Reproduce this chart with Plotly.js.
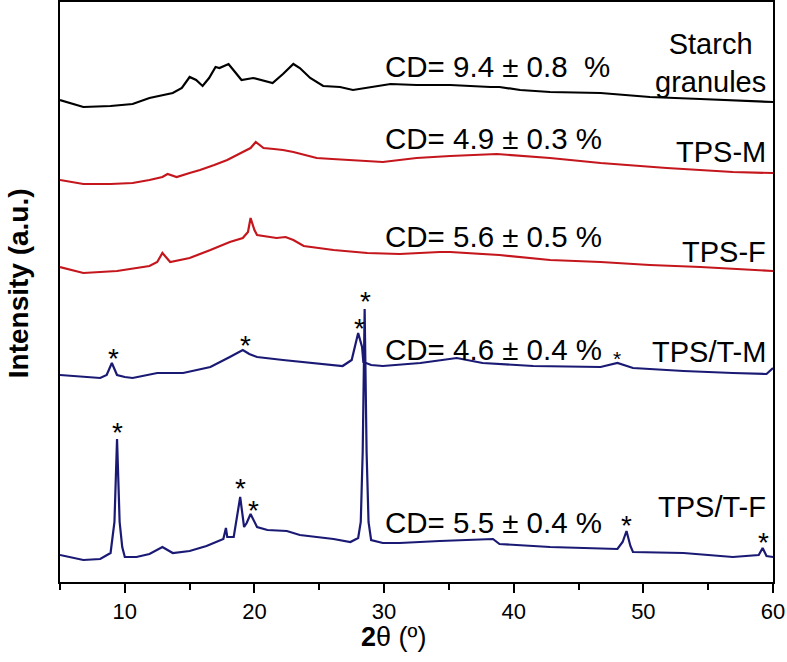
<!DOCTYPE html>
<html>
<head>
<meta charset="utf-8">
<script src="https://cdn.plot.ly/plotly-3.0.1.min.js"></script>
<style>html,body{margin:0;padding:0;background:#fff;}#chart{width:787px;height:662px;}</style>
</head>
<body>
<div id="chart"></div>
<script>
// 2θ (degrees) and stacked intensities (a.u., vertically offset patterns)
const starchX = [5.0,6.8,8.9,10.6,11.9,13.7,14.4,15.0,15.5,16.0,16.5,17.0,17.3,18.0,18.5,19.0,19.9,20.6,21.4,22.2,23.0,23.5,24.3,25.3,26.6,27.6,28.9,30.5,32.5,35.1,38.2,38.9,40.5,42.8,46.7,50.5,54.4,60.0];
const starchY = [482,475,476,478,484,489,494,505,502,496,504,515,514,518,510,502,504,502,499,508,518,514,504,496,495,492,495,498,497,497,495,495,492,490,489,485,483,480];

const tpsMX = [5.0,6.8,8.9,10.6,11.9,12.9,13.3,14.0,15.0,15.8,16.9,17.9,19.1,19.7,20.1,20.7,21.5,22.2,23.0,24.0,24.8,26.0,27.4,29.9,32.5,35.1,38.7,42.8,46.7,51.8,56.9,60.0];
const tpsMY = [402,398,398,399,402,405,408,405,409,412,417,422,430,434,440,434,433,432,430,427,424,423,422,420,424,426,428,424,419,414,410,409];

const tpsFX = [5.0,6.8,9.4,11.9,12.5,12.9,13.5,15.0,16.6,18.1,19.1,19.5,19.7,20.0,20.2,21.0,21.7,22.4,23.0,23.8,25.0,26.1,28.7,31.2,34.3,35.1,38.9,42.8,46.7,50.5,54.4,60.0];
const tpsFY = [315,309,311,316,320,329,320,324,332,340,344,350,364,352,347,345,344,345,342,336,334,332,329,328,330,330,327,322,320,317,315,311];

const tpsTMX = [5.0,6.8,8.1,8.6,9.0,9.4,10.0,10.6,12.5,14.5,16.6,18.1,18.7,19.1,19.6,20.2,22.2,24.8,26.8,27.5,28.0,28.3,28.4,29.0,29.9,32.8,35.6,37.6,41.5,46.7,48.0,49.2,53.1,56.9,59.5,60.0];
const tpsTMY = [207,205,204,207,219,207,205,204,209,209,215,225,229,232,228,225,222,219,216,222,249,235,220,217,216,219,224,219,216,215,219,214,211,209,208,214];

const tpsTFX = [5.0,6.8,8.1,8.9,9.2,9.4,9.6,9.8,10.0,10.9,11.9,12.9,13.7,15.0,16.3,17.6,17.8,17.9,18.4,18.9,19.2,19.4,19.7,20.2,21.0,22.5,23.5,24.8,26.1,27.4,28.0,28.2,28.35,28.5,28.65,28.8,29.0,29.9,31.2,34.3,36.1,38.4,38.9,42.8,48.0,48.4,48.7,49.0,49.2,53.1,56.9,58.9,59.2,59.5,60.0];
const tpsTFY = [27,22,23,29,60,143,60,35,25,25,28,35,29,31,36,43,54,45,45,85,55,59,68,55,52,51,47,45,43,40,44,60,130,273,130,60,42,39,39,41,42,43,38,35,33,40,51,36,30,29,25,27,34,26,25];

const cdLabels = ["CD= 9.4 \u00B1 0.8  %","CD= 4.9 \u00B1 0.3 %","CD= 5.6 \u00B1 0.5 %","CD= 4.6 \u00B1 0.4 %","CD= 5.5 \u00B1 0.4 %"];
const cdY = [516,444,346,233,60];
const sampleNames = ["Starch<br>granules","TPS-M","TPS-F","TPS/T-M","TPS/T-F"];
const sampleY = [519,430,330,230,75];
const starX = [9.1,19.3,28.1,28.6,9.4,18.9,19.9,48.7,59.3];
const starY = [232,245,262,289,158,102,80,65,48];
const smallStarX = [48.0];
const smallStarY = [230];

const black = '#000000', red = '#c4161c', navy = '#1a1a75';
const FONT = 'Liberation Sans, Arial, sans-serif';

function tr(x, y, c){ return {x:x, y:y, type:'scatter', mode:'lines', line:{color:c, width:2.2}, hoverinfo:'skip', showlegend:false}; }
const data = [tr(starchX,starchY,black), tr(tpsMX,tpsMY,red), tr(tpsFX,tpsFY,red), tr(tpsTMX,tpsTMY,navy), tr(tpsTFX,tpsTFY,navy)];

const ann = [];
cdLabels.forEach((t,i)=>ann.push({x:29.9, y:cdY[i], text:t, showarrow:false, xanchor:'left', yanchor:'middle', font:{size:29.5, color:'#000', family:FONT}}));
sampleNames.forEach((t,i)=>ann.push({x:59.6, y:sampleY[i], text:t, showarrow:false, xanchor:'right', yanchor:'middle', align: i===0?'center':'right', font:{size:29, color:'#000', family:FONT}}));
starX.forEach((x,i)=>ann.push({x:x, y:starY[i], text:'*', showarrow:false, xanchor:'center', yanchor:'middle', yshift:-8, font:{size:28, color:'#000', family:FONT}}));
smallStarX.forEach((x,i)=>ann.push({x:x, y:smallStarY[i], text:'*', showarrow:false, xanchor:'center', yanchor:'middle', yshift:-6, font:{size:21, color:'#000', family:FONT}}));
// axis titles (placed as annotations to match their off-centre positions)
ann.push({xref:'paper', yref:'paper', x:0.468, y:-0.095, xanchor:'center', yanchor:'middle', showarrow:false,
  text:'<b>2</b>\u03B8 (\u00BA)', font:{size:27, family:FONT, color:'#000'}});
ann.push({xref:'paper', yref:'paper', x:-0.059, y:0.515, xanchor:'center', yanchor:'middle', showarrow:false, textangle:-90,
  text:'<b>Intensity (a.u.)</b>', font:{size:28, family:FONT, color:'#000'}});

const layout = {
  width:787, height:662,
  margin:{l:60, r:14, t:2, b:80},
  paper_bgcolor:'#fff', plot_bgcolor:'#fff',
  font:{family:FONT, color:'#000'},
  showlegend:false,
  xaxis:{range:[5,60], dtick:10, tick0:0, ticks:'outside', ticklen:9, tickwidth:2, tickcolor:'#000',
    tickfont:{size:22, family:FONT, color:'#000'},
    minor:{dtick:5, tick0:0, ticks:'outside', ticklen:6, tickwidth:2, tickcolor:'#000'},
    showline:true, linewidth:2, linecolor:'#000', mirror:true, showgrid:false, zeroline:false},
  yaxis:{range:[0,580], showticklabels:false, ticks:'', showline:true, linewidth:2, linecolor:'#000', mirror:true,
    showgrid:false, zeroline:false},
  annotations:ann
};
Plotly.newPlot('chart', data, layout, {displayModeBar:false, staticPlot:true});
</script>
</body>
</html>
